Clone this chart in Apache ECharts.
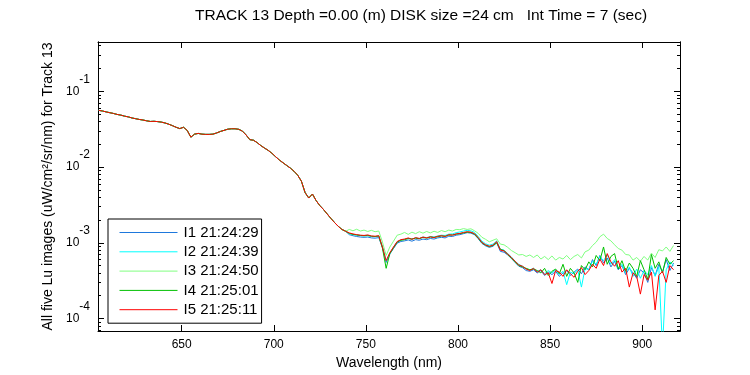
<!DOCTYPE html>
<html>
<head>
<meta charset="utf-8">
<script src="https://cdn.jsdelivr.net/npm/echarts@6/dist/echarts.min.js"></script>
<style>
html, body { margin: 0; padding: 0; background: #fff; }
#chart { width: 750px; height: 375px; }
</style>
</head>
<body>
<div id="chart"></div>
<script>
// wavelength grid (nm)
var lowWl = [605,607,609,611,613,615,617,619,621,623,625,627,629,631,633,635,637,639,641,643,
	645,647,649,651,653,655,657,659,661,663,665,667,669,671,673,675,677,679,681,683,
	685,687,689,691,693,695,697,699,701,703,705,707,709,711,713,715,717,719,721,723,
	725,727,729,731,733,735,737,739];
var highWl = [741,743,745,747,749,751,753,755,757,759,761,763,765,767,769,771,773,775,777,779,
	781,783,785,787,789,791,793,795,797,799,801,803,805,807,809,811,813,815,817,819,
	821,823,825,827,829,831,833,835,837,839,841,843,845,847,849,851,853,855,857,859,
	861,863,865,867,869,871,873,875,877,879,881,883,885,887,889,891,893,895,897,899,
	901,903,905,907,909,911,913,915,917];

// below 740 nm the five images lie on top of each other
var lowBand = [0.056,0.055,0.0535,0.0522,0.051,0.0495,0.0485,0.047,0.046,0.0445,
	0.0435,0.0425,0.0418,0.0408,0.040,0.0402,0.0398,0.0392,0.0382,0.0368,
	0.0352,0.0335,0.0322,0.0335,0.0305,0.0248,0.0272,0.0278,0.0272,0.0270,
	0.0270,0.0272,0.0282,0.0295,0.0305,0.0316,0.0320,0.0320,0.0315,0.0298,
	0.0265,0.0230,0.0226,0.0210,0.0192,0.0178,0.0166,0.0152,0.0137,0.0124,
	0.0114,0.0105,0.0097,0.0088,0.0078,0.0065,0.0046,0.0039,0.0044,0.0036,
	0.0031,0.00275,0.0024,0.0021,0.00185,0.00165,0.0015,0.00142];

var i1High = [0.00128,0.00124,0.00121,0.00119,0.00118,0.00119,0.00116,0.00115,0.00117,0.00086,
	0.00055,0.00071,0.00084,0.00099,0.00104,0.00106,0.00109,0.00105,0.00110,0.00108,
	0.00112,0.00110,0.00114,0.00112,0.00116,0.00118,0.00116,0.00122,0.00121,0.00126,
	0.00128,0.00132,0.00136,0.00134,0.00128,0.00113,0.00098,0.00091,0.00087,0.00090,
	0.00100,0.00077,0.00075,0.00069,0.00062,0.00055,0.00049,0.00047,0.00043,0.00042,
	0.00044,0.00040,0.00043,0.00037,0.00041,0.00038,0.00042,0.00036,0.00040,0.00043,
	0.00037,0.00041,0.00045,0.00039,0.00048,0.00044,0.00060,0.00050,0.00068,0.00054,
	0.00063,0.00048,0.00057,0.00044,0.00050,0.00038,0.00046,0.00040,0.00034,0.00044,
	0.00040,0.00030,0.00047,0.00037,0.00052,0.00041,0.00060,0.00043,0.00054];
var i2High = [0.00132,0.00128,0.00126,0.00124,0.00123,0.00124,0.00121,0.00120,0.00122,0.00089,
	0.00057,0.00073,0.00087,0.00103,0.00109,0.00111,0.00114,0.00112,0.00116,0.00114,
	0.00119,0.00117,0.00121,0.00119,0.00123,0.00126,0.00125,0.00130,0.00131,0.00136,
	0.00139,0.00143,0.00146,0.00144,0.00137,0.00121,0.00105,0.00097,0.00093,0.00096,
	0.00106,0.00082,0.00080,0.00072,0.00065,0.00057,0.00052,0.00049,0.00045,0.00044,
	0.00046,0.00042,0.00044,0.00039,0.00043,0.00040,0.00044,0.00038,0.00042,0.00028,
	0.00041,0.00039,0.00044,0.00026,0.00046,0.00044,0.00057,0.00052,0.00066,0.00058,
	0.00070,0.00052,0.00060,0.00046,0.00052,0.00040,0.00048,0.00036,0.00045,0.00034,
	0.00043,0.00038,0.00050,0.00036,0.00048,0.00004,0.00044,0.00056,0.00050];
var i3High = [0.00150,0.00144,0.00151,0.00143,0.00147,0.00141,0.00146,0.00140,0.00143,0.00102,
	0.00068,0.00088,0.00105,0.00126,0.00130,0.00137,0.00129,0.00138,0.00132,0.00140,
	0.00134,0.00141,0.00135,0.00142,0.00137,0.00145,0.00140,0.00147,0.00143,0.00150,
	0.00149,0.00154,0.00150,0.00153,0.00144,0.00133,0.00118,0.00111,0.00103,0.00108,
	0.00113,0.00096,0.00094,0.00087,0.00079,0.00074,0.00069,0.00070,0.00066,0.00069,
	0.00064,0.00069,0.00061,0.00066,0.00060,0.00067,0.00059,0.00064,0.00061,0.00068,
	0.00060,0.00066,0.00070,0.00063,0.00076,0.00080,0.00092,0.00102,0.00120,0.00130,
	0.00114,0.00106,0.00094,0.00084,0.00080,0.00070,0.00069,0.00059,0.00064,0.00057,
	0.00066,0.00059,0.00073,0.00064,0.00081,0.00078,0.00088,0.00077,0.00092];
var i4High = [0.00133,0.00129,0.00127,0.00125,0.00124,0.00125,0.00122,0.00121,0.00123,0.00085,
	0.00046,0.00072,0.00086,0.00102,0.00108,0.00110,0.00114,0.00112,0.00115,0.00113,
	0.00118,0.00115,0.00119,0.00118,0.00120,0.00123,0.00122,0.00126,0.00127,0.00130,
	0.00132,0.00135,0.00138,0.00137,0.00130,0.00115,0.00100,0.00093,0.00089,0.00092,
	0.00100,0.00082,0.00079,0.00070,0.00063,0.00056,0.00050,0.00048,0.00046,0.00044,
	0.00045,0.00043,0.00040,0.00046,0.00037,0.00042,0.00045,0.00039,0.00052,0.00036,
	0.00046,0.00040,0.00030,0.00050,0.00044,0.00056,0.00048,0.00068,0.00058,0.00088,
	0.00052,0.00066,0.00072,0.00045,0.00058,0.00042,0.00054,0.00046,0.00036,0.00058,
	0.00044,0.00033,0.00070,0.00046,0.00056,0.00040,0.00064,0.00052,0.00058];
var i5High = [0.00135,0.00131,0.00128,0.00126,0.00125,0.00127,0.00123,0.00122,0.00124,0.00088,
	0.00058,0.00074,0.00088,0.00104,0.00110,0.00112,0.00116,0.00111,0.00117,0.00114,
	0.00119,0.00116,0.00120,0.00117,0.00122,0.00124,0.00121,0.00128,0.00126,0.00131,
	0.00133,0.00137,0.00140,0.00138,0.00132,0.00117,0.00101,0.00094,0.00090,0.00093,
	0.00104,0.00080,0.00078,0.00071,0.00064,0.00057,0.00051,0.00049,0.00045,0.00043,
	0.00046,0.00041,0.00044,0.00038,0.00040,0.00029,0.00043,0.00041,0.00036,0.00044,
	0.00039,0.00035,0.00042,0.00047,0.00038,0.00043,0.00052,0.00046,0.00061,0.00050,
	0.00072,0.00056,0.00049,0.00058,0.00041,0.00046,0.00026,0.00040,0.00036,0.00021,
	0.00038,0.00032,0.00041,0.00013,0.00037,0.00042,0.00030,0.00050,0.00044];

var names = ['I1 21:24:29', 'I2 21:24:39', 'I3 21:24:50', 'I4 21:25:01', 'I5 21:25:11'];
var colors = ['#1e78dc', '#00ffff', '#80ff80', '#00c000', '#ff0000'];
var highBands = [i1High, i2High, i3High, i4High, i5High];

var xTicks = [650, 700, 750, 800, 850, 900];
var yTicks = [1e-4, 1e-3, 1e-2, 1e-1];
var yMinorSteps = [2, 3, 4, 5, 6, 7, 8, 9];
var yDecades = [1e-5, 1e-4, 1e-3, 1e-2, 1e-1];

var xMin = 604.6, xMax = 920.5, yMin = 6.84e-5, yMax = 0.448;
var fontName = 'Liberation Sans, Arial, Helvetica, sans-serif';

var wavelengths = lowWl.concat(highWl);
var yMinor = [];
yDecades.forEach(function(d) {
	yMinorSteps.forEach(function(m) { yMinor.push(+(d * m).toPrecision(3)); });
});

var series = names.map(function(name, k) {
	var vals = lowBand.concat(highBands[k]);
	return {
		name: name,
		type: 'line',
		xAxisIndex: 0,
		yAxisIndex: 0,
		symbol: 'none',
		showSymbol: false,
		animation: false,
		color: colors[k],
		lineStyle: { width: 1, color: colors[k] },
		data: wavelengths.map(function(w, i) { return [w, vals[i]]; })
	};
});

function xAxisOf(pos, showLabel) {
	return {
		type: 'value', position: pos, min: xMin, max: xMax,
		name: showLabel ? 'Wavelength (nm)' : '',
		nameLocation: 'middle', nameGap: 21,
		nameTextStyle: { fontSize: 14, color: '#000', fontFamily: fontName },
		axisLine: { show: true, onZero: false, lineStyle: { color: '#000', width: 1 } },
		axisTick: { show: true, inside: true, length: 6, customValues: xTicks, lineStyle: { color: '#000' } },
		axisLabel: { show: showLabel, customValues: xTicks, margin: 8, fontSize: 12, color: '#000', fontFamily: fontName },
		splitLine: { show: false }
	};
}

function yAxisOf(pos, ticks, len, showLabel) {
	return {
		type: 'log', position: pos, min: yMin, max: yMax,
		name: showLabel ? 'All five Lu images (uW/cm²/sr/nm) for Track 13' : '',
		nameLocation: 'middle', nameGap: 40,
		nameTextStyle: { fontSize: 14, color: '#000', fontFamily: fontName },
		axisLine: { show: true, lineStyle: { color: '#000', width: 1 } },
		axisTick: { show: true, inside: true, length: len, customValues: ticks, lineStyle: { color: '#000' } },
		axisLabel: {
			show: showLabel, customValues: ticks, margin: 8, color: '#000', fontFamily: fontName,
			formatter: function(v) { return '{b|10}{s|' + Math.round(Math.log10(v)) + '}'; },
			rich: {
				b: { fontSize: 12, lineHeight: 36, fontFamily: fontName, color: '#000' },
				s: { fontSize: 12, lineHeight: 12, verticalAlign: 'top', fontFamily: fontName, color: '#000' }
			}
		},
		splitLine: { show: false },
		minorTick: { show: false }
	};
}

var chart = echarts.init(document.getElementById('chart'), null, { renderer: 'canvas' });
chart.setOption({
	backgroundColor: '#fff',
	animation: false,
	title: {
		text: 'TRACK 13 Depth =0.00 (m) DISK size =24 cm   Int Time = 7 (sec)',
		left: 195, top: 8, padding: 0,
		textStyle: { fontSize: 15.5, fontWeight: 'normal', color: '#000', fontFamily: fontName }
	},
	legend: {
		data: names,
		orient: 'vertical',
		left: 108, top: 219,
		padding: [6, 3, 6, 11],
		itemWidth: 58, itemHeight: 14, itemGap: 4.3,
		itemStyle: { opacity: 0 },
		lineStyle: { width: 1 },
		backgroundColor: '#fff',
		borderColor: '#000', borderWidth: 1, borderRadius: 0,
		selectedMode: false,
		textStyle: { fontSize: 15, color: '#000', fontFamily: fontName, padding: [0, 0, 0, 1] }
	},
	grid: { left: 98, right: 70, top: 42, bottom: 44, outerBoundsMode: 'none' },
	xAxis: [xAxisOf('bottom', true), xAxisOf('top', false)],
	yAxis: [
		yAxisOf('left', yTicks, 6, true),
		yAxisOf('left', yMinor, 3, false),
		yAxisOf('right', yTicks, 6, false),
		yAxisOf('right', yMinor, 3, false)
	],
	series: series
});
</script>
</body>
</html>
